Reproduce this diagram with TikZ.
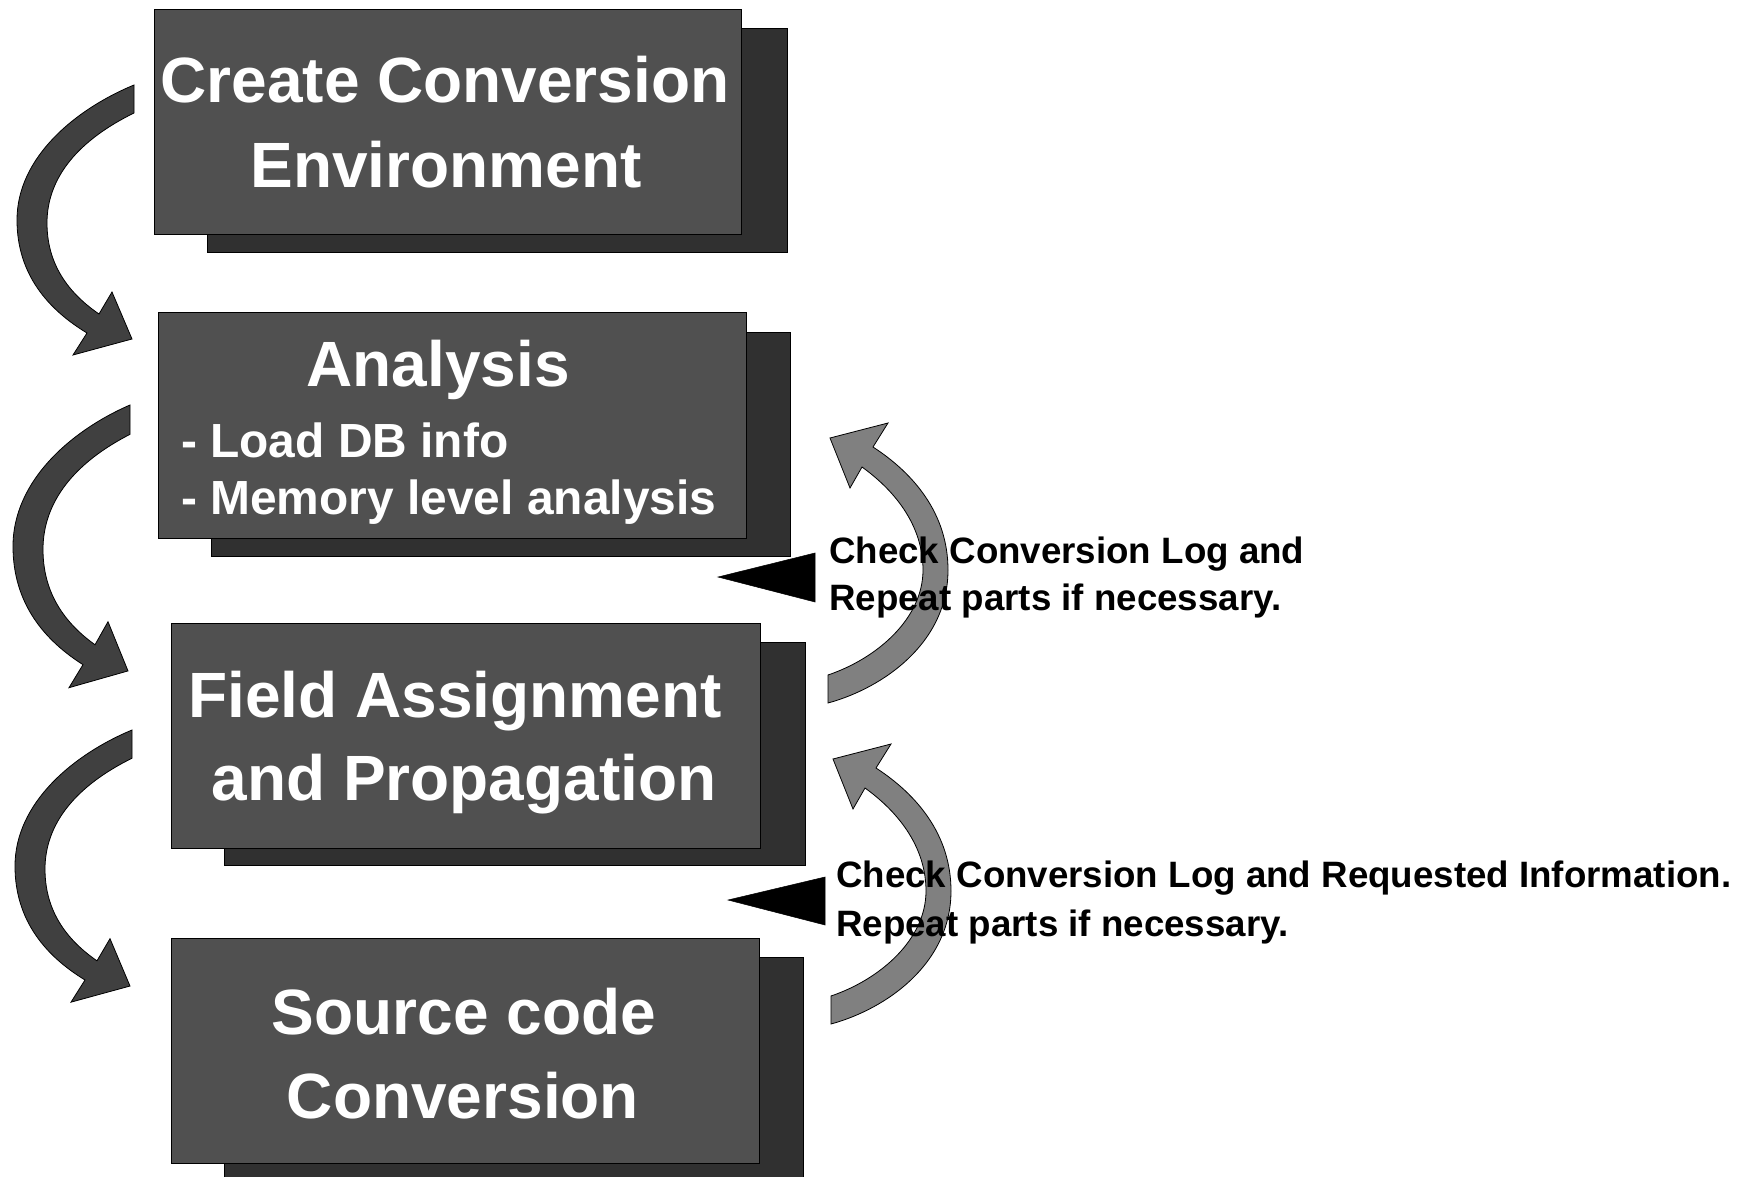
\documentclass[tikz,border=0pt]{standalone}
\usepackage{fontspec}
\setmainfont{Liberation Sans}
\definecolor{boxfront}{HTML}{505050}
\definecolor{boxshadow}{HTML}{303030}
\definecolor{darkarrow}{HTML}{404040}
\definecolor{grayarrow}{HTML}{808080}
\begin{document}
\begin{tikzpicture}[x=1pt,y=-1pt,
  front/.style={draw=black, line width=1pt, fill=boxfront, anchor=north west, inner sep=0pt},
  shadow/.style={draw=black, line width=1pt, fill=boxshadow, anchor=north west, inner sep=0pt},
  ttl/.style={font=\fontsize{64}{77}\selectfont\bfseries, text=white, anchor=base, inner sep=0pt},
  sub/.style={font=\fontsize{47.9}{57}\selectfont\bfseries, text=white, anchor=base west, inner sep=0pt},
  lbl/.style={font=\fontsize{36.7}{44}\selectfont\bfseries, text=black, anchor=base west, inner sep=0pt},
  darr/.style={fill=darkarrow, draw=black, line width=0.8pt, line join=miter},
  garr/.style={fill=grayarrow, draw=black, line width=0.8pt, line join=miter},
  tri/.style={fill=black, draw=black, line width=0.5pt}]
\useasboundingbox (0,0) rectangle (1754,1177);
\clip (0,0) rectangle (1754,1177);

% boxes
\node[shadow, minimum width=580pt, minimum height=224pt] (s1) at (207,28) {};
\node[front, minimum width=587pt, minimum height=225pt] (b1) at (154,9) {};
\node[shadow, minimum width=579pt, minimum height=224pt] (s2) at (211,332) {};
\node[front, minimum width=588pt, minimum height=226pt] (b2) at (158,312) {};
\node[shadow, minimum width=581pt, minimum height=223pt] (s3) at (224,642) {};
\node[front, minimum width=589pt, minimum height=225pt] (b3) at (171,623) {};
\node[shadow, minimum width=579pt, minimum height=224pt] (s4) at (224,957) {};
\node[front, minimum width=588pt, minimum height=225pt] (b4) at (171,938) {};

% box texts
\node[ttl] (t11) at (445,103) {Create Conversion};
\node[ttl] (t12) at (446,188) {Environment};
\node[ttl] (t21) at (438,386) {Analysis};
\node[sub] (t22) at (181,457) {- Load DB info};
\node[sub] (t23) at (181,514) {- Memory level analysis};
\node[ttl] (t31) at (455,717) {Field Assignment};
\node[ttl] (t32) at (464,800) {and Propagation};
\node[ttl] (t41) at (464,1034) {Source code};
\node[ttl] (t42) at (463,1118) {Conversion};

% dark curved arrows (left)
\begin{scope}[shift={(134,85)}]
\path[darr] (0,0) .. controls (-58,24) and (-117,72) .. (-117,135)
 .. controls (-117,190) and (-85,225) .. (-47,248)
 -- (-61,270) -- (-2,254) -- (-22,207) -- (-35,229)
 .. controls (-70,205) and (-87,175) .. (-87,138)
 .. controls (-87,92) and (-55,55) .. (0,28) -- cycle;
\end{scope}
\begin{scope}[shift={(130,405)}, yscale=1.047]
\path[darr] (0,0) .. controls (-58,24) and (-117,72) .. (-117,135)
 .. controls (-117,190) and (-85,225) .. (-47,248)
 -- (-61,270) -- (-2,254) -- (-22,207) -- (-35,229)
 .. controls (-70,205) and (-87,175) .. (-87,138)
 .. controls (-87,92) and (-55,55) .. (0,28) -- cycle;
\end{scope}
\begin{scope}[shift={(132,730)}, yscale=1.008]
\path[darr] (0,0) .. controls (-58,24) and (-117,72) .. (-117,135)
 .. controls (-117,190) and (-85,225) .. (-47,248)
 -- (-61,270) -- (-2,254) -- (-22,207) -- (-35,229)
 .. controls (-70,205) and (-87,175) .. (-87,138)
 .. controls (-87,92) and (-55,55) .. (0,28) -- cycle;
\end{scope}

% gray curved arrows (right)
\begin{scope}[shift={(828,703)}]
\path[garr] (0,0) .. controls (55,-15) and (120,-60) .. (120,-133)
 .. controls (120,-190) and (85,-230) .. (45,-256)
 -- (60,-280) -- (2,-265) -- (22,-215) -- (34,-236)
 .. controls (70,-210) and (95,-175) .. (95,-133)
 .. controls (95,-85) and (50,-45) .. (0,-28) -- cycle;
\end{scope}
\begin{scope}[shift={(831,1024)}]
\path[garr] (0,0) .. controls (55,-15) and (120,-60) .. (120,-133)
 .. controls (120,-190) and (85,-230) .. (45,-256)
 -- (60,-280) -- (2,-265) -- (22,-215) -- (34,-236)
 .. controls (70,-210) and (95,-175) .. (95,-133)
 .. controls (95,-85) and (50,-45) .. (0,-28) -- cycle;
\end{scope}

% black pointers
\path[tri] (718,577) -- (815,553) -- (815,602) -- cycle;
\path[tri] (728,900) -- (825,877) -- (825,925) -- cycle;

% labels
\node[lbl] (l11) at (829,563) {Check Conversion Log and};
\node[lbl] (l12) at (829,610) {Repeat parts if necessary.};
\node[lbl] (l21) at (836,887) {Check Conversion Log and Requested Information.};
\node[lbl] (l22) at (836,936) {Repeat parts if necessary.};
\end{tikzpicture}
\end{document}
